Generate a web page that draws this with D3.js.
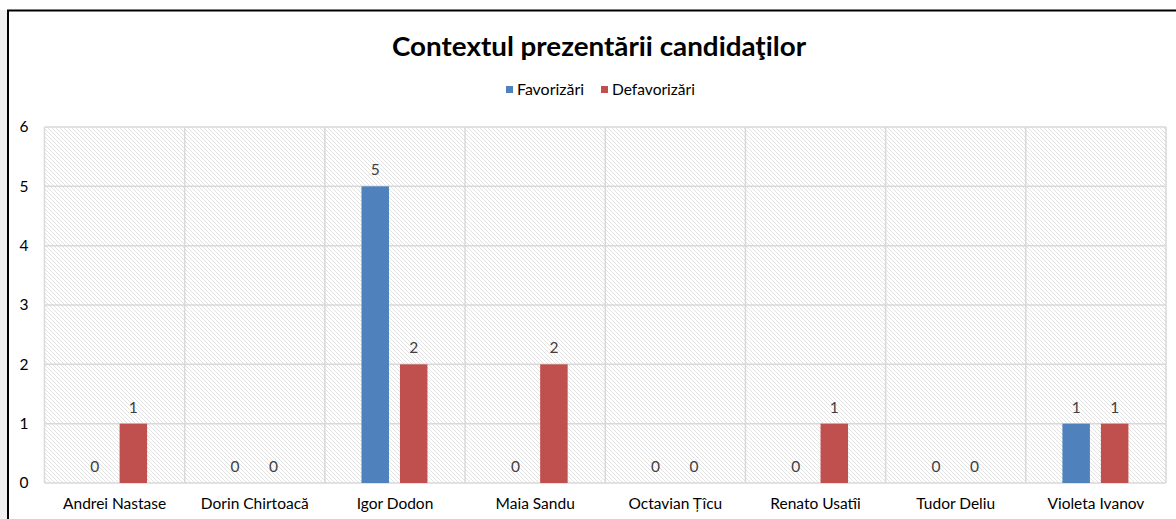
<!DOCTYPE html>
<html>
<head>
<meta charset="utf-8">
<script src="https://cdn.jsdelivr.net/npm/d3@7"></script>
<style>
  html, body { margin: 0; padding: 0; background: #fff; }
  svg { display: block; }
</style>
</head>
<body>
<svg id="chart" width="1176" height="519"></svg>
<script>
// Candidates and counts of favourable / unfavourable presentations
const categories = ["Andrei Nastase", "Dorin Chirtoacă", "Igor Dodon", "Maia Sandu",
                    "Octavian Țîcu", "Renato Usatîi", "Tudor Deliu", "Violeta Ivanov"];
const favorizari   = [0, 0, 5, 0, 0, 0, 0, 1];
const defavorizari = [1, 0, 2, 2, 0, 1, 0, 1];
const seriesNames  = ["Favorizări", "Defavorizări"];
const yTicks = [0, 1, 2, 3, 4, 5, 6];

const colors = ["#4f81bd", "#c0504d"];
const font = "Lato, 'Open Sans', 'Noto Sans', sans-serif";

const svg = d3.select("#chart");
const W = 1176, H = 519;

// page strip on the left and the chart frame
svg.append("rect").attr("x", 0).attr("y", 10).attr("width", 7).attr("height", H - 10).attr("fill", "#f0f0f0");
svg.append("line").attr("x1", 7).attr("x2", W).attr("y1", 10.5).attr("y2", 10.5).attr("stroke", "#000").attr("stroke-width", 2);
svg.append("line").attr("x1", 8).attr("x2", 8).attr("y1", 10).attr("y2", H).attr("stroke", "#000").attr("stroke-width", 2);

// diagonal hatch fill for the plot area
const defs = svg.append("defs");
const pat = defs.append("pattern").attr("id", "hatch").attr("patternUnits", "userSpaceOnUse")
  .attr("width", 4).attr("height", 4);
pat.append("rect").attr("width", 4).attr("height", 4).attr("fill", "#fff");
pat.append("path").attr("d", "M-1,-1 L5,5 M-1,3 L1,5 M3,-1 L5,1")
  .attr("stroke", "#e2e2e2").attr("stroke-width", 1);

const plot = { left: 44.5, right: 1166, top: 127, bottom: 483 };

const x = d3.scaleBand().domain(categories).range([plot.left, plot.right]).padding(0);
const y = d3.scaleLinear().domain([0, 6]).range([plot.bottom, plot.top]);
const inner = d3.scaleBand().domain([0, 1]).range([-33, 33]).paddingInner(0.2857).paddingOuter(0);

const g = svg.append("g");
g.append("rect").attr("x", plot.left).attr("y", plot.top)
  .attr("width", plot.right - plot.left).attr("height", plot.bottom - plot.top)
  .attr("fill", "url(#hatch)");

// horizontal gridlines
g.selectAll(".hgrid").data(yTicks).join("line")
  .attr("x1", plot.left).attr("x2", plot.right)
  .attr("y1", d => y(d)).attr("y2", d => y(d))
  .attr("stroke", "#d9d9d9").attr("stroke-width", 1.5);

// vertical gridlines between categories
const vlines = categories.map(c => x(c)).concat([x(categories[categories.length - 1]) + x.bandwidth()]);
g.selectAll(".vgrid").data(vlines).join("line")
  .attr("x1", d => d).attr("x2", d => d)
  .attr("y1", plot.top).attr("y2", plot.bottom)
  .attr("stroke", "#d9d9d9").attr("stroke-width", 1.5);

// y axis labels
const yAxis = d3.axisLeft(y).tickValues(yTicks).tickFormat(d3.format("d")).tickSize(0).tickPadding(0);
const ya = g.append("g").attr("transform", "translate(29,0)").call(yAxis);
ya.select(".domain").remove();
ya.selectAll("text").attr("font-family", font).attr("font-size", 15.5).attr("fill", "#000")
  .attr("text-anchor", "middle").attr("x", -5);

// x axis labels
const xAxis = d3.axisBottom(x).tickSize(0).tickPadding(0);
const xa = g.append("g").attr("transform", `translate(0,${plot.bottom})`).call(xAxis);
xa.select(".domain").remove();
xa.selectAll("text").attr("font-family", font).attr("font-size", 15.5).attr("fill", "#000")
  .attr("y", 26).attr("dy", 0);

// bars and value labels
const rows = [];
categories.forEach((c, i) => {
  rows.push({ c, s: 0, v: favorizari[i] });
  rows.push({ c, s: 1, v: defavorizari[i] });
});
const cx = c => x(c) + x.bandwidth() / 2 - 0.5;

g.selectAll(".bar").data(rows.filter(d => d.v > 0)).join("rect")
  .attr("x", d => cx(d.c) + inner(d.s))
  .attr("width", inner.bandwidth())
  .attr("y", d => y(d.v))
  .attr("height", d => y(0) - y(d.v))
  .attr("fill", d => colors[d.s]);

g.selectAll(".lbl").data(rows).join("text")
  .attr("x", d => cx(d.c) + inner(d.s) + inner.bandwidth() / 2)
  .attr("y", d => y(d.v) - 11)
  .attr("text-anchor", "middle")
  .attr("font-family", font).attr("font-size", 15.5).attr("fill", "#404040")
  .text(d => d.v);

// title
svg.append("text").attr("x", 599).attr("y", 56).attr("text-anchor", "middle")
  .attr("font-family", font).attr("font-weight", "bold").attr("font-size", 27)
  .attr("textLength", 414).attr("lengthAdjust", "spacingAndGlyphs")
  .attr("fill", "#000").text("Contextul prezentării candidaţilor");

// legend
const legendX = [506, 601];
const legendW = [67, 83];
seriesNames.forEach((name, i) => {
  svg.append("rect").attr("x", legendX[i]).attr("y", 86).attr("width", 7).attr("height", 7).attr("fill", colors[i]);
  svg.append("text").attr("x", legendX[i] + 11).attr("y", 95)
    .attr("font-family", font).attr("font-size", 16).attr("fill", "#000")
    .attr("textLength", legendW[i]).attr("lengthAdjust", "spacingAndGlyphs")
    .text(name);
});
</script>
</body>
</html>
